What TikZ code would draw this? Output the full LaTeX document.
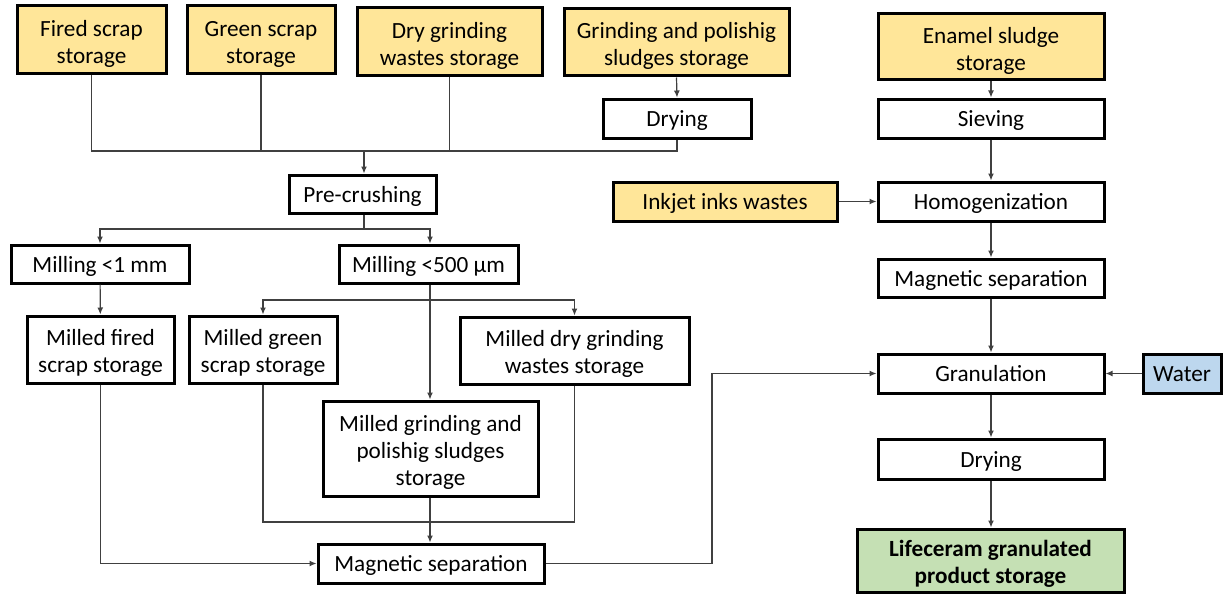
\documentclass[tikz,border=0pt]{standalone}
\usepackage{fontspec}
\setmainfont{Carlito}
\usetikzlibrary{arrows.meta}
\definecolor{yel}{HTML}{FFE699}
\definecolor{grn}{HTML}{C5E0B4}
\definecolor{blu}{HTML}{BDD7EE}
\definecolor{ln}{HTML}{404040}
\newcommand\mystrt{\rule[-5pt]{0pt}{26pt}}
\newcommand\mytop{\rule{0pt}{23pt}}
\begin{document}
\begin{tikzpicture}[x=1pt,y=-1pt,
  box/.style={draw=black,line width=3pt,inner sep=0pt,align=center,fill=white,
    font=\fontsize{23.2}{27}\selectfont},
  one/.style={box,execute at begin node=\mystrt, execute at end node=\mystrt},
  src/.style={box,fill=yel},
  conn/.style={draw=ln,line width=1.2pt},
  arr/.style={conn,-{Latex[length=7pt,width=6pt]}}]
\useasboundingbox (0,0) rectangle (1224,594);
% sources
\node[src,minimum width=149pt,minimum height=68pt] (fired) at (91.5,40) {\mytop Fired scrap\\storage};
\node[src,minimum width=148pt,minimum height=68pt] (green) at (261,40) {\mytop Green scrap\\storage};
\node[src,minimum width=185pt,minimum height=68pt] (dry) at (449.5,42) {\mytop Dry grinding\\wastes storage};
\node[src,minimum width=225pt,minimum height=67pt] (sludge) at (676.5,42.5) {\mytop Grinding and polishig\\sludges storage};
\node[one,minimum width=148pt,minimum height=39pt] (dryL) at (677,118.5) {Drying};
% right column
\node[src,minimum width=226pt,minimum height=66pt] (enamel) at (991,47) {\mytop Enamel sludge\\storage};
\node[one,minimum width=226pt,minimum height=39pt] (siev) at (991,118.5) {Sieving};
\node[one,minimum width=226pt,minimum height=39pt] (homog) at (991,201.5) {Homogenization};
\node[one,fill=yel,minimum width=224pt,minimum height=39pt] (inkjet) at (725,201.5) {Inkjet inks wastes};
\node[one,minimum width=226pt,minimum height=38pt] (magR) at (991,278) {Magnetic separation};
\node[one,minimum width=226pt,minimum height=39pt] (gran) at (991,373.5) {Granulation};
\node[one,fill=blu,minimum width=78pt,minimum height=39pt] (water) at (1182,373.5) {Water};
\node[one,minimum width=226pt,minimum height=40pt] (dryR) at (991,459) {Drying};
\node[box,fill=grn,minimum width=267pt,minimum height=63pt,font=\fontsize{23.2}{27}\selectfont\bfseries] (life) at (990.5,560.5) {\mytop Lifeceram granulated\\product storage};
% left tree
\node[one,minimum width=147pt,minimum height=38pt] (pre) at (362.5,194) {Pre-crushing};
\node[one,minimum width=178pt,minimum height=38pt] (mill1) at (100,264) {Milling <1 mm};
\node[one,minimum width=179pt,minimum height=38pt] (mill5) at (428.5,264) {Milling <500 µm};
\node[box,minimum width=147pt,minimum height=67pt] (mfired) at (100.5,349.5) {\mytop Milled fired\\scrap storage};
\node[box,minimum width=148pt,minimum height=67pt] (mgreen) at (263,349.5) {\mytop Milled green\\scrap storage};
\node[box,minimum width=229pt,minimum height=67pt] (mdry) at (574.5,350.5) {\mytop Milled dry grinding\\wastes storage};
\node[box,minimum width=215pt,minimum height=95pt] (mgrind) at (430.5,448.5) {\mytop Milled grinding and\\polishig sludges\\storage};
\node[one,minimum width=226pt,minimum height=39pt] (magL) at (431,563.5) {Magnetic separation};
% junction coordinates
\coordinate (jtop) at (364,151);
\coordinate (jpre) at (364,229);
\coordinate (jm5) at (430,300);
\coordinate (jbot) at (430,522);
\coordinate (jright) at (712,563.5);
% connectors top
\draw[conn] (fired.south) -- (fired.south |- jtop) -- (dryL.south |- jtop) -- (dryL.south);
\draw[conn] (green.south) -- (green.south |- jtop);
\draw[conn] (dry.south) -- (dry.south |- jtop);
\draw[arr] (sludge.south) -- (dryL.north);
\draw[arr] (jtop) -- (jtop |- pre.north);
% pre-crushing split
\draw[conn] (pre.south -| jpre) -- (jpre);
\draw[arr] (jpre) -| (mill1.north);
\draw[arr] (jpre) -| (mill5.north -| jm5);
\draw[arr] (mill1) -- (mfired);
% milling 500 split
\draw[arr] (mill5.south -| jm5) -- (mgrind.north -| jm5);
\draw[arr] (jm5) -| (mgreen.north);
\draw[arr] (jm5) -| (mdry.north);
% bottom merges
\draw[conn] (mgreen.south) |- (jbot);
\draw[conn] (mdry.south) |- (jbot);
\draw[arr] (mgrind.south -| jbot) -- (magL.north -| jbot);
\draw[arr] (mfired.south) |- (magL.west);
\draw[arr] (magL.east) -- (jright) |- (gran.west);
% right column
\draw[arr] (enamel) -- (siev);
\draw[arr] (siev) -- (homog);
\draw[arr] (inkjet) -- (homog);
\draw[arr] (homog) -- (magR);
\draw[arr] (magR) -- (gran);
\draw[arr] (water) -- (gran);
\draw[arr] (gran) -- (dryR);
\draw[arr] (dryR.south) -- (dryR.south |- life.north);
\end{tikzpicture}
\end{document}
